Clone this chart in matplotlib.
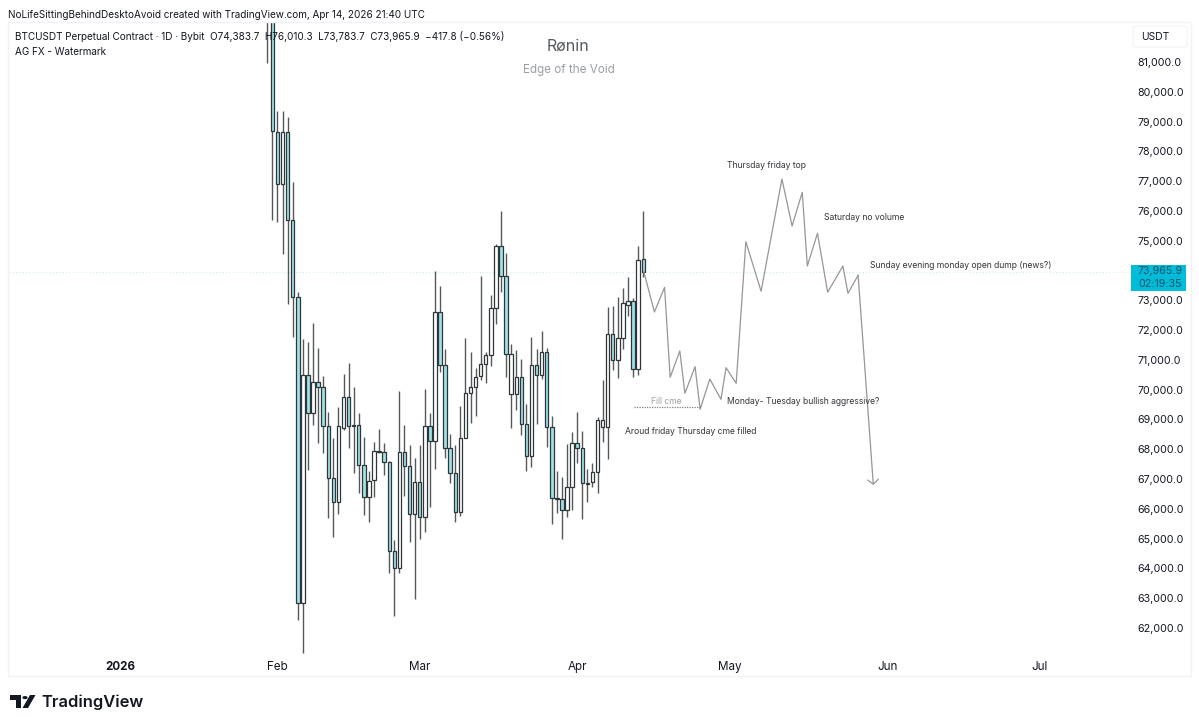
import numpy as np
import matplotlib
matplotlib.use('Agg')
import matplotlib.pyplot as plt
from matplotlib.patches import Rectangle, Circle, Polygon, FancyBboxPatch

W, H = 1199, 727
TEAL = '#a0e2e6'
EDGE = '#2f3639'
WICK = '#55585b'
PATH_COLOUR = '#969696'
TEXT = '#131722'

plt.rcParams['font.family'] = ['Inter', 'DejaVu Sans']

# daily candles, first one is Jan 30 2026 (day 29 counted from Jan 1)
first_day = 29
opens = [85000, 84000, 78650, 76904, 78650, 75695, 73110, 62838, 70492, 69217, 70257,
         70089, 68780, 67034, 66229, 68713, 69754, 68800, 68814, 67471, 66397, 66967,
         67941, 67907, 67571, 64584, 64013, 67907, 67437, 65826, 66900, 65725, 68780,
         68276, 72607, 70828, 68042, 67202, 65893, 68377, 69888, 70089, 70459, 70861,
         71164, 72741, 74823, 73816, 69854, 69854, 70425, 68847, 67773, 70828, 70492,
         71265, 68746, 66363, 66330, 65960, 66732, 68209, 68042, 66867, 66900, 67236,
         68746, 68746, 71869, 70996, 71734, 72842, 72976, 70693, 74383.7]
closes = [84000, 78683, 76904, 78650, 75695, 73110, 62838, 70492, 69217, 70257, 70089,
          68780, 67034, 66229, 68780, 69754, 68780, 68780, 67471, 66397, 66934, 67941,
          67910, 67571, 64584, 64013, 67907, 67437, 65826, 66900, 65725, 68780, 68276,
          72607, 70828, 68042, 67202, 65893, 68377, 69888, 70089, 70425, 70861, 71164,
          72741, 74823, 73816, 71197, 71197, 70425, 68847, 67773, 70828, 70492, 71265,
          68746, 66363, 66330, 65960, 66732, 68209, 68042, 66867, 66840, 67236, 68982,
          68982, 71869, 70996, 71734, 72909, 72976, 70693, 74353, 73965.9]
highs = [85500, 85000, 79355, 79355, 79153, 76971, 73279, 71701, 71600, 72238, 71399,
         70459, 69250, 68377, 69418, 70526, 70895, 70089, 69217, 68411, 67269, 68243,
         68680, 68209, 67600, 64953, 69955, 68814, 68142, 67706, 68142, 70022, 69217,
         73984, 73480, 71365, 68511, 68142, 69451, 71734, 71265, 70727, 73816, 71265,
         73178, 74890, 76000, 74588, 71533, 71331, 71030, 69518, 71768, 71365, 71969,
         71399, 69116, 67269, 67068, 68176, 68579, 69250, 68612, 67337, 67538, 69082,
         70324, 72775, 72809, 73110, 73413, 73782, 73077, 74823, 76010.3]
lows = [80966, 75695, 75628, 74555, 72876, 71768, 62267, 61159, 67303, 68814, 68209,
        67874, 65692, 65054, 65826, 68646, 68042, 67202, 66531, 65792, 65557, 66397,
        67874, 67135, 63845, 62402, 63845, 66430, 64886, 62966, 65000, 65222, 66061,
        67337, 70593, 67706, 66867, 65557, 65759, 68377, 68881, 69116, 70324, 70224,
        70794, 72204, 73279, 70425, 68713, 69317, 68478, 67269, 67404, 68847, 70357,
        68075, 65490, 65860, 65000, 65725, 65960, 67538, 65658, 66229, 66732, 66531,
        68243, 67672, 70660, 70391, 71365, 72473, 70425, 70492, 73783.7]

# hand drawn forecast path, days from Jan 1 and price
path_days = [103.1, 105.2, 107.2, 108.3, 110.2, 111.2, 113.2, 114.2, 116.1, 118.3, 119.3,
             121.3, 123.2, 126.2, 130.3, 132.3, 134.3, 135.3, 137.3, 139.3, 142.3, 143.3,
             145.3, 148.3]
path_prices = [73966, 72607, 73436, 70415, 71298, 69878, 70771, 69341, 70358, 69676, 70737,
               70213, 74967, 73302, 77072, 75494, 76625, 74151, 75249, 73269, 74151, 73235,
               73839, 66800]
cme_days = [101.2, 114.2]
cme_price = 69430
last_price = 73965.9

month_days = [0, 31, 59, 90, 120, 151, 181]
month_labels = ['2026', 'Feb', 'Mar', 'Apr', 'May', 'Jun', 'Jul']
price_ticks = np.arange(62000, 82000, 1000)

fig = plt.figure(figsize=(W / 100, H / 100), dpi=100, facecolor='white')


def px_text(x, y, s, **kw):
    kw.setdefault('va', 'center')
    kw.setdefault('color', TEXT)
    return fig.text(x / W, 1 - y / H, s, **kw)


# outer frame of the chart
fig.add_artist(Rectangle((8 / W, 1 - 676 / H), 1183 / W, 654 / H, transform=fig.transFigure,
                         fill=False, ec='#f1f2f5', lw=1))

ax = fig.add_axes([9 / W, 1 - 655 / H, 1123 / W, 633 / H])
ax.set_xlim((9 - 120) / 5.08, (1132 - 120) / 5.08)
ax.set_ylim(83081 - 33.57 * 655, 83081 - 33.57 * 22)
ax.patch.set_alpha(0)
for s in ax.spines.values():
    s.set_visible(False)

# candles
days = first_day + np.arange(len(opens))
o, c = np.array(opens), np.array(closes)
ax.vlines(days, lows, highs, color=WICK, lw=1.0, zorder=2)
up = c >= o
ax.bar(days, np.abs(c - o), bottom=np.minimum(o, c), width=0.68,
       color=np.where(up, 'white', TEAL), edgecolor=EDGE, linewidth=0.9, zorder=3)

# last price line
ax.axhline(last_price, color='#cfeaee', lw=0.8, ls=(0, (1, 2)), zorder=1)

# drawings
ax.plot(path_days[:-1], path_prices[:-1], color=PATH_COLOUR, lw=0.9, zorder=4)
ax.annotate('', xy=(path_days[-1], path_prices[-1]), xytext=(path_days[-2], path_prices[-2]),
            arrowprops=dict(arrowstyle='->,head_length=0.3,head_width=0.35', color=PATH_COLOUR,
                            lw=0.9, mutation_scale=11, shrinkA=0, shrinkB=0), zorder=4)
ax.plot(cme_days, [cme_price, cme_price], color='#808080', lw=0.9, ls=(0, (1, 1)), zorder=4)

# axes labels
ax.yaxis.tick_right()
ax.set_yticks(price_ticks)
ax.set_yticklabels([f'{p:,.1f}' for p in price_ticks], fontsize=7.7, color=TEXT)
ax.set_xticks(month_days)
ax.set_xticklabels(month_labels, fontsize=8.4, color=TEXT)
ax.get_xticklabels()[0].set_fontweight('bold')
ax.tick_params(axis='both', length=0)
ax.tick_params(axis='y', pad=4)
ax.tick_params(axis='x', pad=4)

# header
px_text(8, 15, 'NoLifeSittingBehindDesktoAvoid created with TradingView.com, Apr 14, 2026 21:40 UTC',
        fontsize=7.16)
px_text(15, 37, 'BTCUSDT Perpetual Contract · 1D · Bybit  O74,383.7  H76,010.3  L73,783.7  C73,965.9  −417.8 (−0.56%)',
        fontsize=7.16)
px_text(15, 52, 'AG FX - Watermark', fontsize=7.16)
px_text(568, 46, 'Rønin', fontsize=11.5, ha='center', color='#555a60')
px_text(569, 70, 'Edge of the Void', fontsize=8.4, ha='center', color='#9a9ea6')

# annotations
NOTE = '#33363b'
px_text(727, 165, 'Thursday friday top', fontsize=6.2, color=NOTE)
px_text(824, 217, 'Saturday no volume', fontsize=6.2, color=NOTE)
px_text(870, 265, 'Sunday evening monday open dump (news?)', fontsize=6.2, color=NOTE)
px_text(727, 401, 'Monday- Tuesday bullish aggressive?', fontsize=6.2, color=NOTE)
px_text(625, 431, 'Aroud friday Thursday cme filled', fontsize=6.2, color=NOTE)
px_text(651, 402, 'Fill cme', fontsize=6.2, color='#a0a0a0')

# currency box and price tag
fig.add_artist(FancyBboxPatch((1133 / W, 1 - 47 / H), 54 / W, 21 / H, transform=fig.transFigure,
                              boxstyle='round,pad=0,rounding_size=0.003', fc='white', ec='#f4f5f7', lw=1))
px_text(1155, 37, 'USDT', fontsize=7.4, ha='center')
fig.add_artist(Rectangle((1131 / W, 1 - 291 / H), 55 / W, 26 / H, transform=fig.transFigure,
                         fc='#00bcd8', ec='none'))
px_text(1160, 271.5, '73,965.9', fontsize=7.7, ha='center', color='#06536b')
px_text(1160, 284, '02:19:35', fontsize=7.7, ha='center', color='#06536b')

# logo
LOGO = '#131722'
fig.add_artist(Polygon([(10 / W, 1 - 695 / H), (21 / W, 1 - 695 / H), (21 / W, 1 - 708 / H),
                        (16 / W, 1 - 708 / H), (16 / W, 1 - 700 / H), (10 / W, 1 - 700 / H)],
                       transform=fig.transFigure, fc=LOGO, ec='none'))
fig.add_artist(Circle((25 / W, 1 - 697.6 / H), 2.6 / W, transform=fig.transFigure, fc=LOGO, ec='none'))
fig.add_artist(Polygon([(30 / W, 1 - 695 / H), (35.5 / W, 1 - 695 / H), (28 / W, 1 - 708 / H),
                        (22.5 / W, 1 - 708 / H)], transform=fig.transFigure, fc=LOGO, ec='none'))
px_text(41, 702, 'TradingView', fontsize=11.9, fontweight='semibold', color=LOGO)

fig.savefig('out.png', dpi=100)
